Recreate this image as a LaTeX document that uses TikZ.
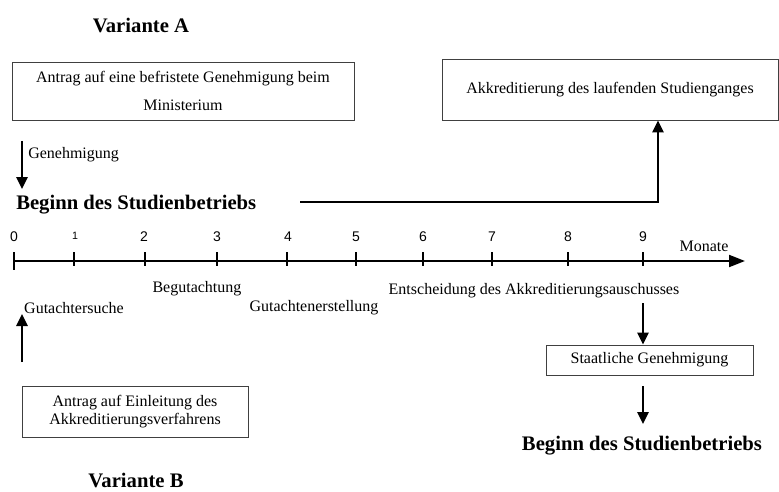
\documentclass[tikz,border=0pt]{standalone}
\usepackage{fontspec}
\setmainfont{Liberation Serif}
\newfontfamily\numfont{Liberation Sans}
\usetikzlibrary{arrows.meta}
\tikzset{
  box/.style={draw=black!75, line width=0.7pt, inner sep=0pt, font=\fontsize{12}{14}\selectfont, align=center},
  lbl/.style={inner sep=0pt, font=\fontsize{12}{14}\selectfont},
  big/.style={inner sep=0pt, font=\fontsize{15.5}{18}\selectfont\bfseries},
  num/.style={inner sep=0pt, font=\fontsize{10.5}{12}\selectfont\numfont},
  arr/.style={line width=1.5pt, -{Triangle[width=8.5pt,length=9pt]}},
  axis/.style={line width=1.5pt, -{Triangle[width=9pt,length=12pt]}},
  tick/.style={line width=0.8pt}
}
\begin{document}
\begin{tikzpicture}[x=0.75pt,y=-0.75pt]
\useasboundingbox (0,0) rectangle (779,492);
% Variante A
\node[big] (va) at (141,25) {Variante A};
\node[box, minimum width=342*0.75pt, minimum height=58*0.75pt] (antrag) at (183,91)
  {Antrag auf eine befristete Genehmigung beim\\[7pt]Ministerium};
\node[box, minimum width=336*0.75pt, minimum height=61*0.75pt] (akk) at (610,89.5)
  {Akkreditierung des laufenden Studienganges};
\coordinate (g1) at (22,141);
\coordinate (g2) at (22,189);
\draw[arr] (g1) -- (g2);
\node[lbl, anchor=west] (gen) at (28,155) {Genehmigung};
\node[big, anchor=west] (beginA) at (16,205) {Beginn des Studienbetriebs};
\coordinate (l1) at (300,202);
\coordinate (l2) at (658,202);
\draw[arr] (l1) -- (l2) -- (akk.south -| l2);
% axis
\coordinate (ax0) at (14,261);
\coordinate (ax1) at (745,261);
\draw[axis] (ax0) -- (ax1);
\draw[tick] (14,252) -- (14,270);
\foreach \x in {74,145,217,287,356,423,492,568,643}{
  \draw[tick] (\x,252) -- (\x,266);
}
\node[num] (n0) at (14,237) {0};
\node[num, font=\fontsize{8}{10}\selectfont\numfont] (n1) at (75,236) {1};
\node[num] (n2) at (144,237) {2};
\node[num] (n3) at (217,237) {3};
\node[num] (n4) at (288,237) {4};
\node[num] (n5) at (356,237) {5};
\node[num] (n6) at (423,237) {6};
\node[num] (n7) at (492,237) {7};
\node[num] (n8) at (568,237) {8};
\node[num] (n9) at (643,237) {9};
\node[lbl] (mon) at (704,246) {Monate};
% labels below axis
\node[lbl] (begut) at (197,289) {Begutachtung};
\node[lbl] (gsuche) at (74,308) {Gutachtersuche};
\node[lbl] (gerst) at (314,308) {Gutachtenerstellung};
\node[lbl] (entsch) at (534,291) {Entscheidung des Akkreditierungsauschusses};
% Variante B
\coordinate (u1) at (22,362);
\coordinate (u2) at (22,314);
\draw[arr] (u1) -- (u2);
\node[box, minimum width=226*0.75pt, minimum height=51*0.75pt] (einl) at (135,411.5)
  {Antrag auf Einleitung des\\Akkreditierungsverfahrens};
\node[big] (vb) at (136,480) {Variante B};
\coordinate (d1) at (643,303);
\node[box, minimum width=207*0.75pt, minimum height=30*0.75pt] (staat) at (649.5,360)
  {Staatliche Genehmigung};
\draw[arr] (d1) -- (d1 |- staat.north);
\coordinate (d2) at (643,386);
\coordinate (d3) at (643,424);
\draw[arr] (d2) -- (d3);
\node[big] (beginB) at (642,446) {Beginn des Studienbetriebs};
\end{tikzpicture}
\end{document}
